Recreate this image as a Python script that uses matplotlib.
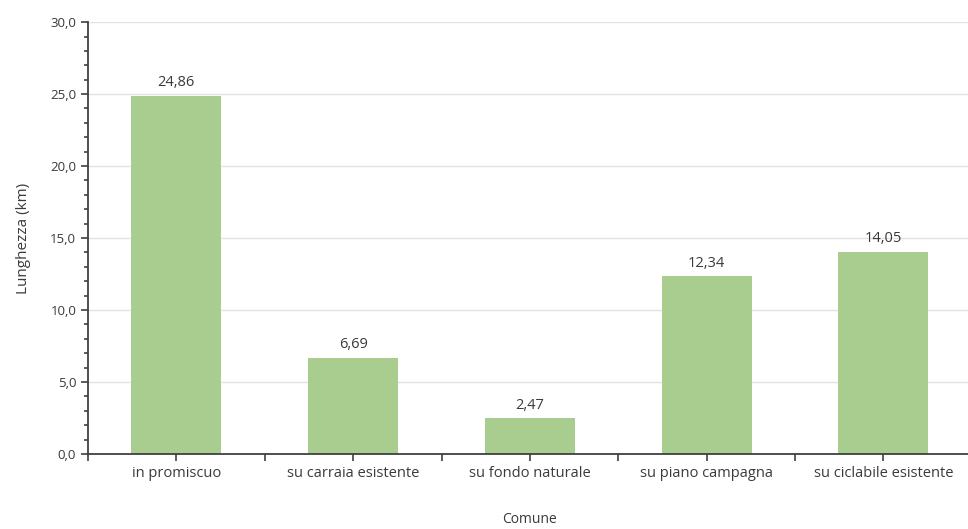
import matplotlib.pyplot as plt
from matplotlib.ticker import MultipleLocator, FuncFormatter

categories = ["in promiscuo", "su carraia esistente", "su fondo naturale",
              "su piano campagna", "su ciclabile esistente"]
lengths_km = [24.86, 6.69, 2.47, 12.34, 14.05]

BAR_COLOR = "#a9cd8f"
TEXT_COLOR = "#3a3a3a"

plt.rcParams["font.family"] = ["Open Sans", "DejaVu Sans"]

fig = plt.figure(figsize=(9.68, 5.29), dpi=100)
ax = fig.add_axes([0.0909, 0.1418, 0.913, 0.8164])

x = list(range(len(categories)))
bars = ax.bar(x, lengths_km, width=0.51, color=BAR_COLOR, zorder=2)

for b, v in zip(bars, lengths_km):
    ax.text(b.get_x() + b.get_width() / 2, v + 0.4, f"{v:.2f}".replace(".", ","),
            ha="center", va="bottom", fontsize=10.5, color=TEXT_COLOR)

ax.set_ylim(0, 30)
ax.set_xlim(-0.5, 4.5)
ax.yaxis.set_major_locator(MultipleLocator(5))
ax.yaxis.set_minor_locator(MultipleLocator(1))
ax.yaxis.set_major_formatter(FuncFormatter(lambda v, p: f"{v:.1f}".replace(".", ",")))
ax.grid(axis="y", color="#e2e2e2", linewidth=1, zorder=0)

ax.set_xticks(x)
ax.set_xticklabels(categories)
ax.set_xticks([i - 0.5 for i in range(len(categories) + 1)], minor=True)

ax.tick_params(axis="both", which="both", colors="#404040", labelcolor=TEXT_COLOR)
ax.tick_params(axis="y", which="major", length=5, width=1.2, labelsize=9.5)
ax.tick_params(axis="y", which="minor", length=3, width=1.2)
ax.tick_params(axis="x", which="both", length=5, width=1.2)
ax.tick_params(axis="x", which="major", pad=4, labelsize=10.5)

for side in ("top", "right"):
    ax.spines[side].set_visible(False)
for side in ("left", "bottom"):
    ax.spines[side].set_color("#404040")
    ax.spines[side].set_linewidth(1.3)

ax.set_ylabel("Lunghezza (km)", fontsize=11, color=TEXT_COLOR, labelpad=14)
ax.set_xlabel("Comune", fontsize=10, color=TEXT_COLOR)
ax.xaxis.set_label_coords(0.5, -0.135)

fig.savefig("out.png", dpi=100)
